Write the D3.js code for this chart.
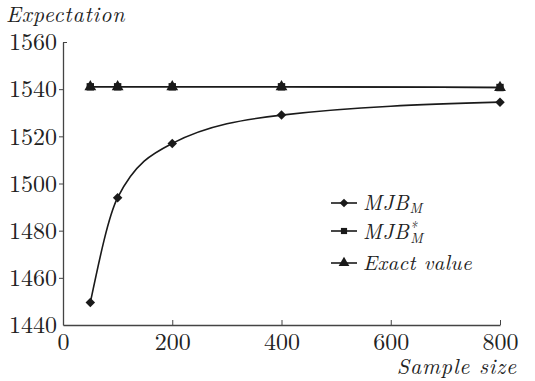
<!DOCTYPE html>
<html>
<head>
<meta charset="utf-8">
<script src="https://cdn.jsdelivr.net/npm/d3@7"></script>
<style>
  body { margin: 0; background: #fff; }
  svg text { font-family: "Latin Modern Roman", "Liberation Serif", serif !important; }
</style>
</head>
<body>
<svg id="chart" width="535" height="381"></svg>
<script>
// Sample sizes and estimated expectations
const sampleSizes = [50, 100, 200, 400, 800];
const mjb = [1449.5, 1494, 1517, 1529, 1534.5];
const mjbStar = [1541, 1541, 1541, 1541, 1540.7];
const exact = [1541, 1541, 1541, 1541, 1540.7];
const xTicks = [0, 200, 400, 600, 800];
const yTicks = [1440, 1460, 1480, 1500, 1520, 1540, 1560];

const W = 535, H = 381;
const margin = { left: 63, right: 35, top: 42, bottom: 56 };
const svg = d3.select("#chart");

const x = d3.scaleLinear().domain([0, 800]).range([margin.left, W - margin.right]);
const y = d3.scaleLinear().domain([1440, 1560]).range([H - margin.bottom, margin.top]);

const ink = "#1a1a1a";
const textInk = "#222";

// x axis: ticks pointing up into the plot
const xAxis = svg.append("g")
  .attr("transform", `translate(0,${y(1440)})`)
  .call(d3.axisBottom(x).tickValues(xTicks).tickSizeInner(-5).tickSizeOuter(0).tickPadding(8).tickFormat(d3.format("d")));
xAxis.select(".domain").attr("stroke", "#444").attr("stroke-width", 1.3);
xAxis.selectAll(".tick line").attr("stroke", "#444");
xAxis.selectAll(".tick").filter(d => d === 0).select("line").remove();
xAxis.selectAll("text").attr("font-size", 24).attr("dy", "0.71em").attr("fill", textInk);

// y axis: ticks pointing left
const yAxis = svg.append("g")
  .attr("transform", `translate(${x(0)},0)`)
  .call(d3.axisLeft(y).tickValues(yTicks).tickSizeInner(4).tickSizeOuter(0).tickPadding(2).tickFormat(d3.format("d")));
yAxis.select(".domain").attr("stroke", "#444").attr("stroke-width", 1.3);
yAxis.selectAll(".tick line").attr("stroke", "#444");
yAxis.selectAll(".tick").filter(d => d === 1440).select("line").remove();
yAxis.selectAll(".tick").filter(d => d === 1560).select("line").attr("x2", 4);
yAxis.selectAll("text").attr("font-size", 24).attr("fill", textInk);

// axis titles (math italic style, slightly spaced)
svg.append("text").attr("x", 6).attr("y", 22).attr("font-size", 22).attr("letter-spacing", 0.8)
  .attr("font-style", "italic").attr("fill", textInk).text("Expectation");
svg.append("text").attr("x", 517).attr("y", 374).attr("font-size", 22).attr("letter-spacing", 0.8)
  .attr("font-style", "italic").attr("fill", textInk).attr("text-anchor", "end").text("Sample size");

const line = d3.line().x(d => x(d[0])).y(d => y(d[1])).curve(d3.curveMonotoneX);

// marker shapes: the diamond is a square rotated by 45 degrees
const shapes = {
  diamond: { type: d3.symbolSquare, rotate: 45, size: 45, legendSize: 38 },
  square: { type: d3.symbolSquare, rotate: 0, size: 55, legendSize: 38 },
  triangle: { type: d3.symbolTriangle, rotate: 0, size: 60, legendSize: 50 }
};

const series = [
  { values: mjb, shape: "diamond" },
  { values: mjbStar, shape: "square" },
  { values: exact, shape: "triangle" }
];

series.forEach(s => {
  const pts = sampleSizes.map((n, i) => [n, s.values[i]]);
  svg.append("path").attr("d", line(pts)).attr("fill", "none").attr("stroke", ink).attr("stroke-width", 1.6);
});
series.forEach(s => {
  const sh = shapes[s.shape];
  const pts = sampleSizes.map((n, i) => [n, s.values[i]]);
  svg.selectAll(null).data(pts).enter().append("path")
    .attr("transform", d => `translate(${x(d[0])},${y(d[1])}) rotate(${sh.rotate})`)
    .attr("d", d3.symbol().type(sh.type).size(sh.size)())
    .attr("fill", ink);
});

// legend
const legendRows = [
  { shape: "diamond", y: 203 },
  { shape: "square", y: 231 },
  { shape: "triangle", y: 263 }
];
const lg = svg.append("g");
legendRows.forEach(r => {
  const sh = shapes[r.shape];
  lg.append("line").attr("x1", 331).attr("x2", 357).attr("y1", r.y).attr("y2", r.y).attr("stroke", ink).attr("stroke-width", 1.6);
  lg.append("path")
    .attr("transform", `translate(344,${r.y}) rotate(${sh.rotate})`)
    .attr("d", d3.symbol().type(sh.type).size(sh.legendSize)())
    .attr("fill", ink);
});
const t1 = lg.append("text").attr("x", 363).attr("y", 210).attr("font-size", 21).attr("letter-spacing", 0.6)
  .attr("font-style", "italic").attr("fill", textInk);
t1.append("tspan").text("MJB");
t1.append("tspan").attr("font-size", 14).attr("dy", 3).text("M");

const t2 = lg.append("text").attr("x", 363).attr("y", 239).attr("font-size", 21).attr("letter-spacing", 0.6)
  .attr("font-style", "italic").attr("fill", textInk);
t2.append("tspan").text("MJB");
t2.append("tspan").attr("font-size", 14).attr("dy", -7).text("*");
t2.append("tspan").attr("font-size", 14).attr("dx", -7).attr("dy", 11).text("M");

lg.append("text").attr("x", 363).attr("y", 270).attr("font-size", 21).attr("letter-spacing", 0.3)
  .attr("font-style", "italic").attr("fill", textInk).text("Exact value");
</script>
</body>
</html>
